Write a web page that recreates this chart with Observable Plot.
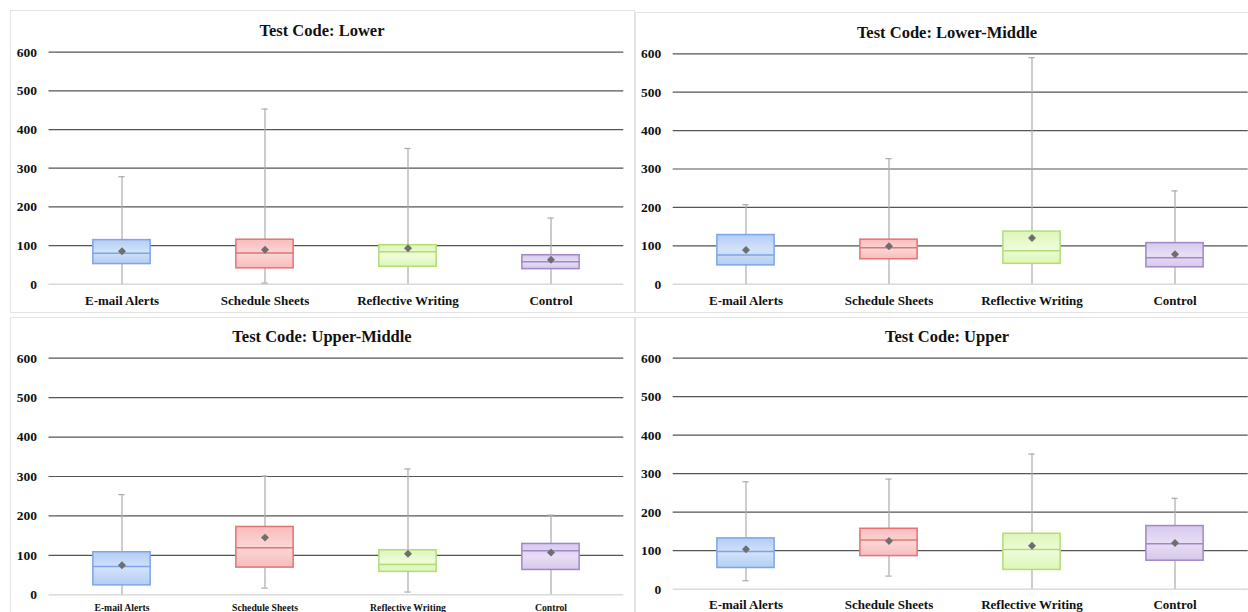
<!DOCTYPE html>
<html>
<head>
<meta charset="utf-8">
<script src="https://cdn.jsdelivr.net/npm/d3@7"></script>
<script src="https://cdn.jsdelivr.net/npm/@observablehq/plot@0.6"></script>
<style>
  html, body { margin: 0; padding: 0; background: #fff; }
  #page { position: relative; width: 1248px; height: 612px; overflow: hidden; background: #fff; }
  .frame { position: absolute; border: 1.5px solid #e3e3e3; box-sizing: border-box; }
  .chart { position: absolute; }
  .chart svg { display: block; max-width: none !important; }
</style>
</head>
<body>
<div id="page"></div>
<script>
// Treatment groups along the x axis
const categories = ["E-mail Alerts", "Schedule Sheets", "Reflective Writing", "Control"];
// One panel per test code
const testCodes = ["Lower", "Lower-Middle", "Upper-Middle", "Upper"];
const yTicks = [0, 100, 200, 300, 400, 500, 600];

// Box-plot statistics: one row per test code, one value per category
const whiskerLow  = [[0, 3, 0, 0], [0, 0, 0, 0], [0, 17, 7, 0], [22, 34, 0, 0]];
const quartile1   = [[52, 41, 45, 39], [49, 65, 53, 44], [24, 69, 58, 63], [55, 86, 50, 74]];
const medians     = [[80, 81, 84, 58], [76, 95, 87, 69], [72, 119, 77, 112], [98, 128, 103, 118]];
const quartile3   = [[114, 115, 101, 75], [128, 116, 137, 107], [108, 172, 113, 129], [132, 157, 144, 164]];
const whiskerHigh = [[278, 453, 351, 171], [207, 327, 590, 243], [254, 301, 319, 202], [279, 286, 351, 236]];
const means       = [[85, 89, 93, 63], [89, 99, 120, 78], [75, 145, 104, 107], [104, 125, 113, 120]];

// Box colours per category: outline, and gradient stops
const boxStroke = ["#7ea5e4", "#e27474", "#b3dc78", "#a088c8"];
const boxFillEdge = ["#b3cdf5", "#f8bcbc", "#dcf6b6", "#d6c8ec"];
const boxFillMid  = ["#d2e2fa", "#fcd6d6", "#eefcd9", "#e8def4"];

const serif = "'Liberation Serif', 'Times New Roman', Times, serif";

// Panel placement on the page
const layout = [
  {left: 10,  top: 10,  width: 624, height: 303, mt: 41.7, mb: 29.3, ml: 38.5, mr: 10.7, titleY: 20,   labelSize: 13,  labelPad: 11.6, frameW: 625, frameH: 303},
  {left: 635, top: 12,  width: 624, height: 301, mt: 41.3, mb: 29.3, ml: 37.7, mr: 11.3, titleY: 20.3, labelSize: 13,  labelPad: 11.6, frameW: 630, frameH: 301},
  {left: 10,  top: 317, width: 624, height: 303, mt: 40.7, mb: 25.7, ml: 38.5, mr: 10.7, titleY: 19,   labelSize: 9.7, labelPad: 9.2,  frameW: 625, frameH: 310},
  {left: 635, top: 317, width: 624, height: 303, mt: 40.7, mb: 31.3, ml: 37.7, mr: 11.3, titleY: 19,   labelSize: 13,  labelPad: 10.7, frameW: 630, frameH: 310}
];

const page = document.getElementById("page");
const svgNS = "http://www.w3.org/2000/svg";

function gradientDefs(panel) {
  return () => {
    const defs = document.createElementNS(svgNS, "defs");
    categories.forEach((c, j) => {
      const g = document.createElementNS(svgNS, "linearGradient");
      g.setAttribute("id", `box-${panel}-${j}`);
      g.setAttribute("x1", "0"); g.setAttribute("y1", "0");
      g.setAttribute("x2", "0"); g.setAttribute("y2", "1");
      [[0, boxFillEdge[j]], [0.5, boxFillMid[j]], [1, boxFillEdge[j]]].forEach(([o, col]) => {
        const s = document.createElementNS(svgNS, "stop");
        s.setAttribute("offset", o);
        s.setAttribute("stop-color", col);
        g.appendChild(s);
      });
      defs.appendChild(g);
    });
    return defs;
  };
}

testCodes.forEach((code, i) => {
  const L = layout[i];
  const rows = categories.map((c, j) => ({
    category: c, key: j,
    lo: whiskerLow[i][j], q1: quartile1[i][j], med: medians[i][j],
    q3: quartile3[i][j], hi: whiskerHigh[i][j], mean: means[i][j]
  }));

  const bandW = (L.width - L.ml - L.mr) / categories.length;
  const boxInset = (bandW - 58) / 2;
  const capInset = (bandW - 7) / 2;
  const frameCenter = L.ml + (L.width - L.ml - L.mr) / 2;
  const titleDx = (L.width / 2 - 0.5) - frameCenter;

  const whisker = {x: "category", stroke: "#ababab", strokeWidth: 1.2};

  const chart = Plot.plot({
    width: L.width,
    height: L.height,
    marginTop: L.mt,
    marginBottom: L.mb,
    marginLeft: L.ml,
    marginRight: L.mr,
    style: {fontFamily: serif, background: "transparent", overflow: "visible", color: "#111"},
    x: {domain: categories, padding: 0, axis: null, label: null},
    y: {domain: [0, 600], axis: null, label: null},
    marks: [
      gradientDefs(i),
      Plot.ruleY([0], {stroke: "#dadada", strokeWidth: 1.5}),
      Plot.ruleY(yTicks.filter((t) => t > 0), {stroke: "#555555", strokeWidth: 1.2}),
      Plot.ruleX(rows, {...whisker, y1: "lo", y2: "hi"}),
      Plot.tickY(rows, {...whisker, y: "hi", insetLeft: capInset, insetRight: capInset}),
      Plot.tickY(rows.filter((d) => d.lo > 0), {...whisker, y: "lo", insetLeft: capInset, insetRight: capInset}),
      ...categories.map((c, j) => Plot.barY(rows.filter((d) => d.key === j), {
        x: "category", y1: "q1", y2: "q3",
        fill: `url(#box-${i}-${j})`, stroke: boxStroke[j], strokeWidth: 1.5,
        insetLeft: boxInset, insetRight: boxInset
      })),
      ...categories.map((c, j) => Plot.tickY(rows.filter((d) => d.key === j), {
        x: "category", y: "med", stroke: boxStroke[j], strokeWidth: 1.5,
        insetLeft: boxInset, insetRight: boxInset
      })),
      Plot.dot(rows, {x: "category", y: "mean", symbol: "diamond2", r: 3.6, fill: "#6e6e6e", stroke: "none"}),
      Plot.axisY({ticks: yTicks, tickSize: 0, tickPadding: 12, fontSize: 13.5, fontWeight: "bold", fontFamily: serif, fill: "#111", label: null}),
      Plot.axisX({tickSize: 0, tickPadding: L.labelPad, fontSize: L.labelSize, fontWeight: "bold", fontFamily: serif, fill: "#111", label: null}),
      Plot.text([code], {
        frameAnchor: "top", lineAnchor: "middle", dy: L.titleY - L.mt, dx: titleDx,
        text: (d) => "Test Code: " + d,
        fontSize: 16.5, fontWeight: "bold", fontFamily: serif, fill: "#111"
      })
    ]
  });
  chart.style.maxWidth = "none";

  const frame = document.createElement("div");
  frame.className = "frame";
  Object.assign(frame.style, {left: L.left + "px", top: L.top + "px", width: L.frameW + "px", height: L.frameH + "px"});
  page.appendChild(frame);

  const holder = document.createElement("div");
  holder.className = "chart";
  Object.assign(holder.style, {left: L.left + "px", top: L.top + "px", width: L.width + "px", height: L.height + "px"});
  holder.appendChild(chart);
  page.appendChild(holder);
});
</script>
</body>
</html>
